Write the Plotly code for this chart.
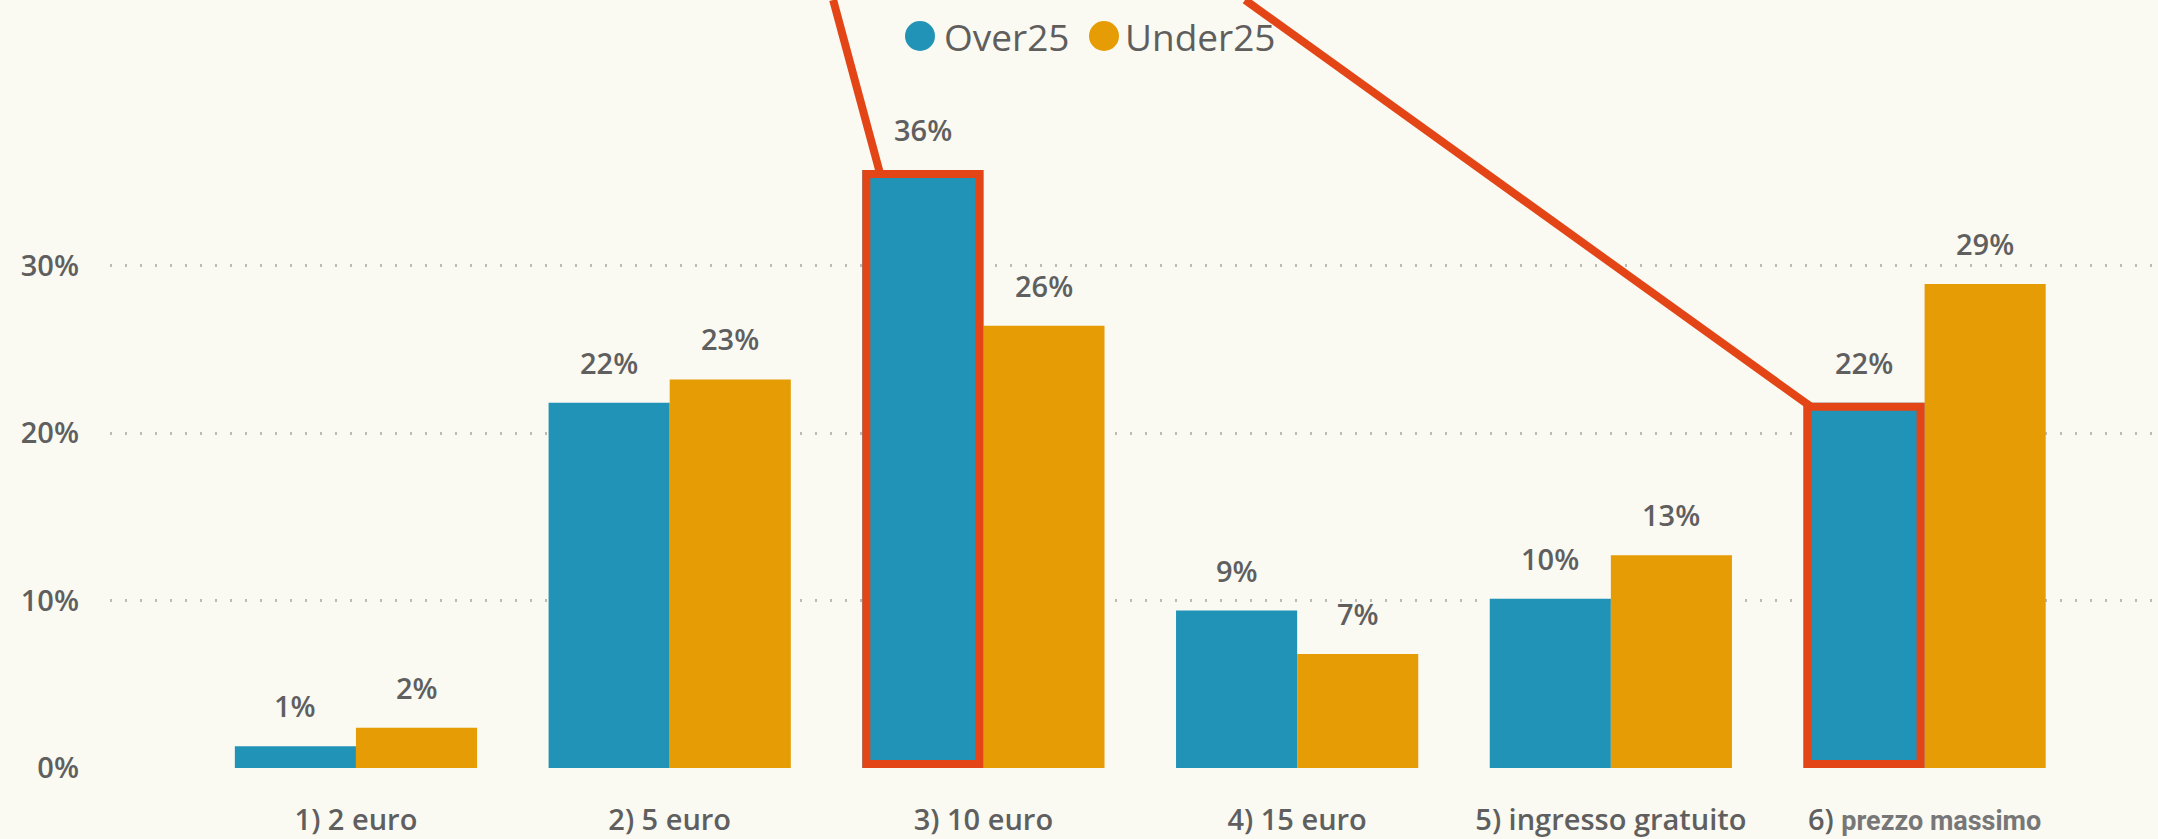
import plotly.graph_objects as go

# ---- data ----
categories = ["1) 2 euro", "2) 5 euro", "3) 10 euro", "4) 15 euro",
              "5) ingresso gratuito", "6) prezzo massimo"]
over25 = [1.3, 21.8, 35.7, 9.4, 10.1, 21.8]
under25 = [2.4, 23.2, 26.4, 6.8, 12.7, 28.9]
series_names = ["Over25", "Under25"]
y_tickvals = [0, 10, 20, 30]
y_ticktext = ["0%", "10%", "20%", "30%"]
highlighted = [2, 5]  # Over25 bars outlined in red

# ---- style / layout constants ----
W, H = 2158, 839
ML, MR, MT, MB = 110, 0, 98, 71
BG = "#FAF9F2"
C_OVER = "#2193B6"
C_UNDER = "#E69C05"
C_RED = "#E34517"
TXT = "#5F5F5F"
FONT = "Open Sans"
BARGAP = 0.228
XR = [-0.784, 5.744]
YR = [0, 40]
PW, PH = W - ML - MR, H - MT - MB
BW = (1 - BARGAP) / 2  # width of one bar in category units


def px_x(x):  # data x -> paper
    return (x - XR[0]) / (XR[1] - XR[0])


def px_y(y):  # data y -> paper
    return (y - YR[0]) / (YR[1] - YR[0])


fig = go.Figure()
for name, vals, col in [(series_names[0], over25, C_OVER), (series_names[1], under25, C_UNDER)]:
    fig.add_trace(go.Bar(x=categories, y=vals, name=name, marker_color=col,
                         marker_line_width=0, showlegend=False))

annotations = []
# data labels
for vals, off in [(over25, -BW / 2), (under25, BW / 2)]:
    for i, v in enumerate(vals):
        annotations.append(dict(x=i + off, y=v, xref="x", yref="y", text=f"{v:.0f}%",
                                showarrow=False, yanchor="bottom", yshift=19,
                                font=dict(family=FONT, size=29, color=TXT, weight=600)))

# manual legend (circle + text)
leg_y = (H - MB - 36) / PH
leg_items = [(series_names[0], C_OVER, 920, 942), (series_names[1], C_UNDER, 1104, 1123)]
shapes = []
for name, col, cx, tx in leg_items:
    cxp = (cx - ML) / PW
    shapes.append(dict(type="circle", xref="paper", yref="paper", xsizemode="pixel",
                       ysizemode="pixel", xanchor=cxp, yanchor=leg_y, x0=-15, x1=15,
                       y0=-15, y1=15, fillcolor=col, line_width=0))
    annotations.append(dict(x=(tx - ML) / PW, y=leg_y, xref="paper", yref="paper",
                            text=name, showarrow=False, xanchor="left", yanchor="middle",
                            font=dict(family=FONT, size=37, color="#605E5C")))

# red highlight rectangles (inset half line width)
LW = 8
insx = (LW / 2) / PW
insy = (LW / 2) / PH
for i in highlighted:
    shapes.append(dict(type="rect", xref="paper", yref="paper",
                       x0=px_x(i - BW) + insx, x1=px_x(i) - insx,
                       y0=px_y(0) + insy, y1=px_y(over25[i]) - insy,
                       line=dict(color=C_RED, width=LW), fillcolor="rgba(0,0,0,0)",
                       layer="above"))

# red pointer lines from the top edge to the highlighted bars
top_y = (H - MB) / PH
line_specs = [(2, 1.521, 0.057), (5, 2.834, 0.024)]
for i, top_x, dx in line_specs:
    shapes.append(dict(type="line", xref="paper", yref="paper",
                       x0=px_x(top_x), y0=top_y,
                       x1=px_x(i - BW + dx), y1=px_y(over25[i]) - insy,
                       line=dict(color=C_RED, width=LW), layer="above"))

ticktext_x = categories[:-1] + [
    "6) <span style='font-family:Roboto;font-weight:700;color:#777777;font-size:27px'>prezzo massimo</span>"]

fig.update_layout(
    width=W, height=H,
    margin=dict(l=ML, r=MR, t=MT, b=MB),
    paper_bgcolor=BG, plot_bgcolor=BG,
    barmode="group", bargap=BARGAP, bargroupgap=0,
    showlegend=False,
    annotations=annotations, shapes=shapes,
    xaxis=dict(range=XR, tickvals=categories, ticktext=ticktext_x, showgrid=False,
               zeroline=False, showline=False, ticks="", ticklabelstandoff=32,
               tickfont=dict(family=FONT, size=29, color=TXT, weight=600)),
    yaxis=dict(range=YR, tickvals=y_tickvals, ticktext=y_ticktext, showgrid=True,
               gridcolor="#BDBBB8", gridwidth=2.5, griddash="2px,13px",
               zeroline=False, showline=False, ticks="", ticklabelstandoff=30,
               tickfont=dict(family=FONT, size=29, color=TXT, weight=600)),
)

fig.write_html("out.html", config={"displayModeBar": False},
               post_script="document.body.style.margin='0';document.body.style.overflow='hidden';")
